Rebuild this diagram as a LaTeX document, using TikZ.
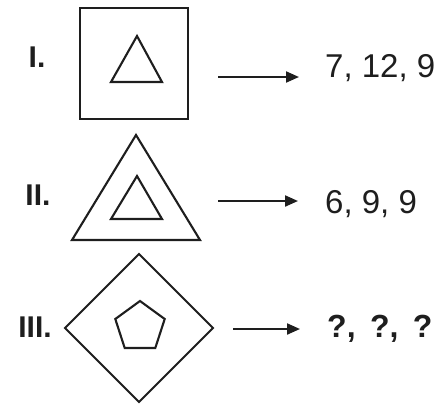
\documentclass[tikz,border=0pt]{standalone}
\usepackage{fontspec}
\setmainfont{Liberation Sans}
\usetikzlibrary{arrows.meta, positioning}
\definecolor{ink}{HTML}{1E1E1E}

\tikzset{
  figline/.style={draw=ink, line width=2.1pt, line join=miter},
  romanlbl/.style={anchor=base, font=\bfseries\fontsize{30}{32}\selectfont, text=ink, inner sep=0pt},
  answer/.style={anchor=base west, font=\fontsize{33}{35}\selectfont, text=ink, inner sep=0pt},
  maparrow/.style={draw=ink, line width=2.1pt, -{Triangle[length=13pt, width=11pt]}}
}

\begin{document}
\begin{tikzpicture}[x=1pt, y=-1pt]
  \useasboundingbox (0,0) rectangle (446,405);
  % Figure I
  \node[romanlbl] (lblI) at (37,67) {I.};
  \draw[figline] (80,8) rectangle (188,119);
  \draw[figline] (137,36) -- (162,82) -- (111,82) -- cycle;
  \coordinate (tailI) at (218,77);
  \coordinate (headI) at (299,77);
  \node[answer] (ansI) at (325,77) {7, 12, 9};
  % Figure II
  \node[romanlbl] (lblII) at (38,205) {II.};
  \draw[figline] (136,135) -- (200,240) -- (72,240) -- cycle;
  \draw[figline] (137,176) -- (162,219) -- (111,219) -- cycle;
  \coordinate (tailII) at (218,201);
  \coordinate (headII) at (298,201);
  \node[answer] (ansII) at (325,213) {6, 9, 9};
  % Figure III
  \node[romanlbl] (lblIII) at (35,337) {III.};
  \draw[figline] (139,254) -- (213,328) -- (139,402) -- (65,328) -- cycle;
  \draw[figline] (140,301) -- (164.7,319) -- (155.3,348) -- (124.7,348) -- (115.3,319) -- cycle;
  \coordinate (tailIII) at (233,329);
  \coordinate (headIII) at (300,329);
  \node[answer, font=\bfseries\fontsize{32}{34}\selectfont] (ansIII) at (327,337) {?,\hspace{0.45em}?,\hspace{0.45em}?};
  % arrows
  \draw[maparrow] (tailI) -- (headI);
  \draw[maparrow] (tailII) -- (headII);
  \draw[maparrow] (tailIII) -- (headIII);
\end{tikzpicture}
\end{document}
